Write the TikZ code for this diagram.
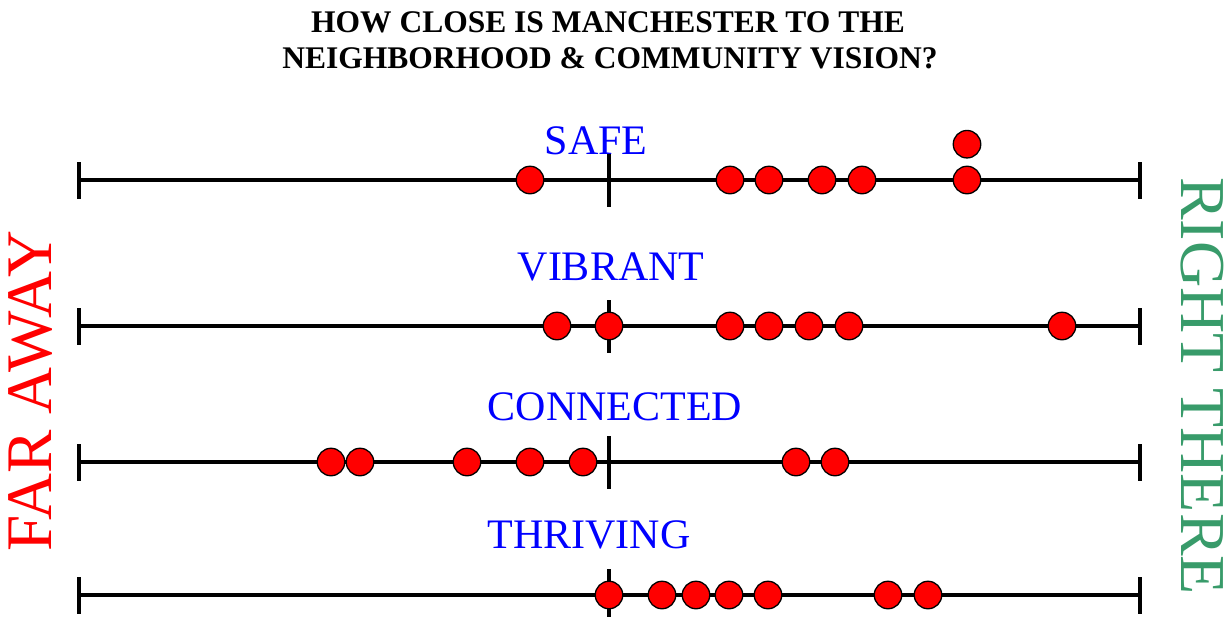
\documentclass[tikz,border=0pt]{standalone}
\usepackage{fontspec}
\setmainfont{Liberation Serif}
\usetikzlibrary{positioning}
\definecolor{farred}{RGB}{255,0,0}
\definecolor{theregreen}{RGB}{56,155,106}
\tikzset{
  scaleline/.style={line width=4.8pt},
  dot/.style={circle, draw=black, fill=farred, line width=1.3pt, minimum size=27.5pt, inner sep=0pt},
  vision/.style={text=blue, font=\fontsize{42}{42}\selectfont, inner sep=0pt, anchor=base},
  titletext/.style={font=\bfseries\fontsize{31.5}{36}\selectfont, inner sep=0pt, anchor=base},
}

\begin{document}
\begin{tikzpicture}[x=1pt,y=-1pt]
\useasboundingbox (0,0) rectangle (1231,616);

\node[titletext] (title1) at (608,32) {HOW CLOSE IS MANCHESTER TO THE};
\node[titletext] (title2) at (610,68) {NEIGHBORHOOD \& COMMUNITY VISION?};

\node[text=farred, font=\fontsize{65}{65}\selectfont, inner sep=0pt, rotate=90] (far) at (31,391) {FAR AWAY};
\node[text=theregreen, font=\fontsize{64}{64}\selectfont, inner sep=0pt, rotate=-90] (there) at (1202,386) {RIGHT THERE};

% the four scales
\foreach \row/\y in {safe/180, vibrant/326, connected/462, thriving/595} {
  \coordinate (\row-l) at (79,\y);
  \coordinate (\row-m) at (609,\y);
  \coordinate (\row-r) at (1140,\y);
  \draw[scaleline] (\row-l) -- (\row-r);
  \draw[scaleline] ([yshift=18pt]\row-l) -- ([yshift=-19pt]\row-l);
  \draw[scaleline] ([yshift=18pt]\row-r) -- ([yshift=-19pt]\row-r);
  \draw[scaleline] ([yshift=26pt]\row-m) -- ([yshift=-27pt]\row-m);
}

\node[vision] (safe-t) at (596,154) {SAFE};
\node[vision] (vibrant-t) at (611,280) {VIBRANT};
\node[vision] (connected-t) at (615,420) {CONNECTED};
\node[vision] (thriving-t) at (589,548) {THRIVING};

% answers
\foreach \x [count=\i] in {530,730,769,822,862,967}
  \node[dot] (safe-\i) at (\x,180) {};
\node[dot, above=7pt of safe-6] (safe-7) {};

\foreach \x [count=\i] in {557,609,730,769,809,849,1062}
  \node[dot] (vibrant-\i) at (\x,326) {};

\foreach \x [count=\i] in {331,360,467,530,583,796,835}
  \node[dot] (connected-\i) at (\x,462) {};

\foreach \x [count=\i] in {609,662,696,729,768,888,928}
  \node[dot] (thriving-\i) at (\x,595) {};

\end{tikzpicture}
\end{document}
